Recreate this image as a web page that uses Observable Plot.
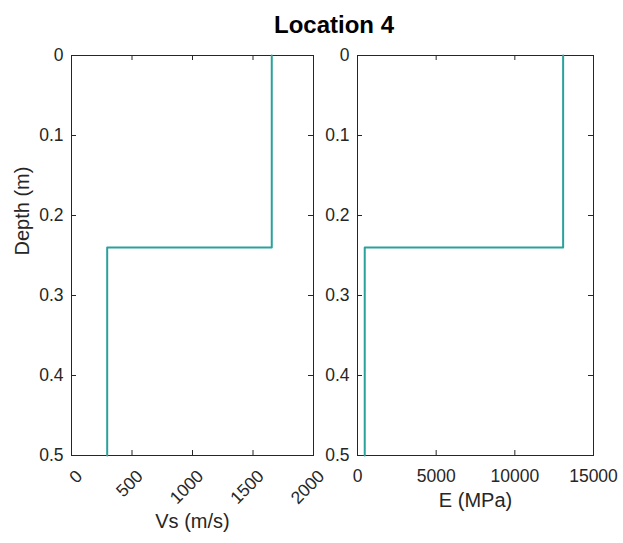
<!DOCTYPE html>
<html><head><meta charset="utf-8">
<script src="https://cdn.jsdelivr.net/npm/d3@7"></script>
<script src="https://cdn.jsdelivr.net/npm/@observablehq/plot@0.6"></script>
<style>
body{margin:0;background:#fff;}
#wrap{position:relative;width:623px;height:543px;overflow:hidden;font-family:"Liberation Sans",Arial,sans-serif;background:#fff;}
#wrap svg{position:absolute;top:0;}
#title{position:absolute;left:234px;width:200px;top:13px;line-height:24px;text-align:center;font-size:24px;font-weight:bold;color:#000;}
</style></head><body>
<div id="wrap"><div id="title">Location 4</div></div>
<script>
// Layer data
const depthTop = [0, 0.24];
const depthBottom = [0.24, 0.5];
const vsValues = [1655, 295];     // Vs (m/s)
const eValues = [13070, 460];     // E (MPa)

// Tick labels
const vsTicks = [0, 500, 1000, 1500, 2000];
const eTicks = [0, 5000, 10000, 15000];
const depthTicks = [0, 0.1, 0.2, 0.3, 0.4, 0.5];

const lineColor = "#2aa19b";
const axisColor = "#262626";

function profile(values) {
  const pts = [];
  values.forEach((v, i) => {
    pts.push({v, d: depthTop[i]});
    pts.push({v, d: depthBottom[i]});
  });
  return pts;
}

function panel({values, xDomain, xTicks, xLabel, width, left, mL, mR, rotate, tickPad, tickDx, labelDy, yLabel}) {
  const plotW = width - mL - mR;
  const plotH = 543 - 55 - 88;
  const marks = [
    Plot.frame({stroke: axisColor, strokeWidth: 1}),
    Plot.tickX(xTicks, {x: d => d, stroke: axisColor, insetTop: plotH - 5}),
    Plot.tickX(xTicks, {x: d => d, stroke: axisColor, insetBottom: plotH - 5}),
    Plot.tickY(depthTicks, {y: d => d, stroke: axisColor, insetRight: plotW - 5}),
    Plot.tickY(depthTicks, {y: d => d, stroke: axisColor, insetLeft: plotW - 5}),
    Plot.axisX(xTicks, {anchor: "bottom", tickSize: 0, tickPadding: tickPad, tickFormat: d => String(d), tickRotate: rotate, label: null, dx: tickDx, fill: axisColor}),
    Plot.axisY(depthTicks, {anchor: "left", tickSize: 0, tickPadding: 8, tickFormat: d => String(d), label: null, fill: axisColor}),
    Plot.line(profile(values), {x: "v", y: "d", stroke: lineColor, strokeWidth: 2}),
    Plot.text([xLabel], {frameAnchor: "bottom", dy: labelDy, fontSize: 20, fill: axisColor, text: d => d})
  ];
  if (yLabel) marks.push(Plot.text([yLabel], {frameAnchor: "left", rotate: -90, dx: -49, fontSize: 20, fill: axisColor, text: d => d}));
  const svg = Plot.plot({
    width, height: 543,
    marginTop: 55, marginBottom: 88, marginLeft: mL, marginRight: mR,
    style: {fontFamily: "'Liberation Sans', Arial, sans-serif", fontSize: "17.5px", color: axisColor, background: "transparent", overflow: "visible"},
    x: {domain: xDomain},
    y: {domain: [0, 0.5], reverse: true},
    marks
  });
  svg.style.left = left + "px";
  document.getElementById("wrap").appendChild(svg);
}

panel({values: vsValues, xDomain: [0, 2000], xTicks: vsTicks, xLabel: "Vs (m/s)", width: 330, left: 0, mL: 71, mR: 17, rotate: -45, tickPad: 18, tickDx: 8, labelDy: 72, yLabel: "Depth (m)"});
panel({values: eValues, xDomain: [0, 15000], xTicks: eTicks, xLabel: "E (MPa)", width: 303, left: 320, mL: 37, mR: 30, rotate: 0, tickPad: 14, tickDx: 0, labelDy: 51, yLabel: null});
</script>
</body></html>
